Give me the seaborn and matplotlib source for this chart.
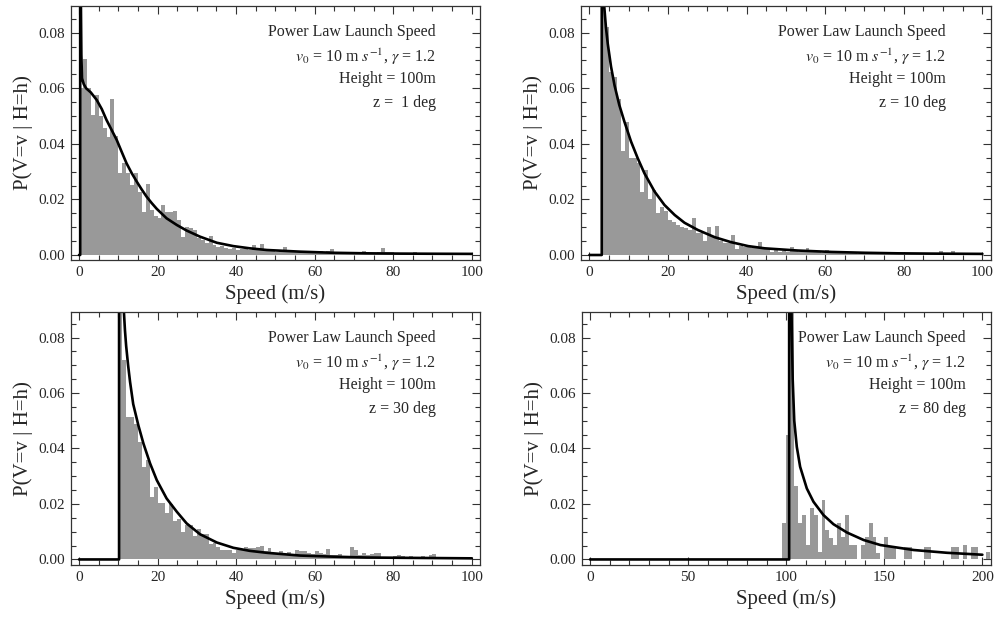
import numpy as np
import pandas as pd
import matplotlib
matplotlib.use("Agg")
import matplotlib.pyplot as plt
import seaborn as sns
from matplotlib.ticker import MultipleLocator

# ---------------- data ----------------
zenith_labels = ["z =  1 deg", "z = 10 deg", "z = 30 deg", "z = 80 deg"]

# histogram heights, bins of width 1 starting at 0 (panels 1-3)
hist_z1 = [0.060, 0.0705, 0.060, 0.0504, 0.0576, 0.050, 0.0456, 0.0426, 0.056, 0.043,
           0.0294, 0.033, 0.0294, 0.0252, 0.0294, 0.0228, 0.0154, 0.0254, 0.0162, 0.014,
           0.0132, 0.018, 0.0154, 0.0154, 0.016, 0.0126, 0.0064, 0.010, 0.0096, 0.009,
           0.006, 0.0054, 0.0042, 0.0068, 0.0036, 0.003, 0.0032, 0.0024, 0.002, 0.0024,
           0.0018, 0.0022, 0.002, 0.0018, 0.0036, 0.0022, 0.004, 0.002, 0.0015, 0.0018,
           0.0012, 0.0015, 0.003, 0.0018, 0.0012, 0.0015, 0.001, 0.0012, 0.0008, 0.0012,
           0.001, 0.0015, 0.0008, 0.0015, 0.002, 0.0008, 0.001, 0.0006, 0.0008, 0.0006,
           0.0012, 0.0008, 0.0015, 0.0004, 0.0008, 0.0006, 0.0012, 0.0025, 0.001, 0.001,
           0.0004, 0.0004, 0.0002, 0.0004, 0.0002, 0.0012, 0.0003, 0.0003, 0.0003, 0.0003,
           0.0003, 0.0003, 0.0003, 0.0003, 0.0003, 0.0003, 0.0003, 0.0003, 0.0003, 0.0003]

hist_z10 = [0.0, 0.0, 0.0, 0.095, 0.082, 0.066, 0.064, 0.056, 0.0375, 0.048,
            0.035, 0.035, 0.033, 0.0228, 0.0306, 0.020, 0.0234, 0.015, 0.0174, 0.016,
            0.0126, 0.012, 0.0108, 0.0102, 0.0096, 0.009, 0.0132, 0.0078, 0.0078, 0.0052,
            0.010, 0.0066, 0.0106, 0.0052, 0.0044, 0.0042, 0.0072, 0.002, 0.0032, 0.003,
            0.0028, 0.0025, 0.003, 0.0046, 0.0025, 0.002, 0.0012, 0.002, 0.001, 0.0015,
            0.0012, 0.0028, 0.0015, 0.0012, 0.0018, 0.0025, 0.0015, 0.0012, 0.001, 0.0008,
            0.0018, 0.0012, 0.0008, 0.001, 0.0006, 0.0008, 0.0006, 0.0012, 0.0005, 0.0008,
            0.0006, 0.0004, 0.0006, 0.0012, 0.0004, 0.0004, 0.0003, 0.0004, 0.0003, 0.0003,
            0.0003, 0.0003, 0.0003, 0.0003, 0.0003, 0.0003, 0.0003, 0.0003, 0.0003, 0.0015,
            0.0003, 0.0003, 0.0015, 0.0003, 0.0003, 0.0003, 0.0003, 0.0003, 0.0003, 0.0003]

hist_z30 = [0.0, 0.0, 0.0, 0.0, 0.0, 0.0, 0.0, 0.0, 0.0, 0.0,
            0.10, 0.072, 0.0515, 0.0515, 0.049, 0.0425, 0.0335, 0.036, 0.0225, 0.026,
            0.0205, 0.0205, 0.0167, 0.020, 0.014, 0.0145, 0.010, 0.0125, 0.0125, 0.0085,
            0.011, 0.009, 0.009, 0.0055, 0.0058, 0.0045, 0.0035, 0.0035, 0.0035, 0.0025,
            0.0035, 0.0035, 0.0045, 0.004, 0.004, 0.0045, 0.005, 0.003, 0.004, 0.002,
            0.0025, 0.003, 0.002, 0.0028, 0.002, 0.0035, 0.003, 0.0032, 0.0025, 0.002,
            0.003, 0.0025, 0.002, 0.0038, 0.0015, 0.0015, 0.0018, 0.001, 0.0012, 0.0045,
            0.0035, 0.0015, 0.0025, 0.0015, 0.0018, 0.0022, 0.0025, 0.001, 0.0008, 0.0008,
            0.0012, 0.0015, 0.0012, 0.001, 0.0012, 0.0008, 0.001, 0.0012, 0.0008, 0.0015,
            0.0018, 0.0005, 0.0008, 0.0005, 0.0005, 0.0005, 0.0005, 0.0005, 0.0005, 0.0005]

# panel 4: bins of width 2 starting at 98
hist_z80 = [0.0132, 0.045, 0.10, 0.0265, 0.0132, 0.016, 0.0052, 0.0186, 0.016, 0.0028,
            0.0214, 0.0106, 0.0079, 0.0052, 0.0132, 0.008, 0.016, 0.0052, 0.0052, 0.0,
            0.0052, 0.008, 0.0132, 0.008, 0.0025, 0.0, 0.008, 0.0045, 0.0045, 0.0,
            0.0, 0.0045, 0.0045, 0.0, 0.0, 0.0, 0.0045, 0.0045, 0.0, 0.0,
            0.0, 0.0, 0.0, 0.0045, 0.0045, 0.0, 0.0052, 0.0, 0.0045, 0.0045,
            0.0, 0.0, 0.0028]

# theoretical curves
curve_z1_x = [0, 0.3, 0.3, 0.45, 0.6, 0.76, 1.2, 1.8, 3.0, 4.5, 5.8, 7.0, 8.3, 9.6, 10.9,
              12.1, 13.4, 14.7, 16.0, 17.2, 18.5, 19.8, 22.3, 24.9, 27.4, 30.8, 35.1, 39.3,
              43.5, 47.8, 56.3, 64.8, 73.3, 81.7, 90.0, 100]
curve_z1_y = [0, 0, 0.2, 0.095, 0.072, 0.0636, 0.0615, 0.060, 0.0585, 0.0558, 0.0525, 0.0486,
              0.045, 0.0414, 0.037, 0.033, 0.0295, 0.0264, 0.0235, 0.021, 0.0187, 0.0166,
              0.0132, 0.0108, 0.0088, 0.0066, 0.0044, 0.0032, 0.0024, 0.0018, 0.0012, 0.0008,
              0.0006, 0.0005, 0.00045, 0.0004]

curve_z10_x = [0, 3.14, 3.14, 3.4, 3.8, 4.2, 4.67, 5.5, 6.4, 7.6, 8.9, 10.6, 12.3, 14.0,
               16.6, 19.1, 21.7, 24.2, 27.6, 31.9, 36.1, 40.4, 44.6, 53.1, 61.6, 70.1,
               78.6, 87.1, 100]
curve_z10_y = [0, 0, 0.2, 0.12, 0.089, 0.082, 0.076, 0.0678, 0.061, 0.054, 0.048, 0.0408,
               0.0348, 0.0294, 0.0228, 0.018, 0.0144, 0.0116, 0.009, 0.0064, 0.0046, 0.0032,
               0.0024, 0.0016, 0.0011, 0.0008, 0.0006, 0.0005, 0.0004]

curve_z30_x = [0, 10.2, 10.2, 10.6, 11.0, 11.4, 11.7, 12.0, 12.5, 13.0, 13.8, 15.1, 16.4,
               18.1, 19.8, 22.3, 24.9, 27.4, 30.8, 35.1, 39.3, 43.5, 47.8, 56.3, 64.8,
               73.3, 81.7, 100]
curve_z30_y = [0, 0, 0.3, 0.15, 0.11, 0.09, 0.0826, 0.077, 0.07, 0.064, 0.056, 0.0484,
               0.0418, 0.0346, 0.0286, 0.022, 0.0172, 0.013, 0.0091, 0.0061, 0.0042, 0.0031,
               0.0024, 0.0014, 0.001, 0.0007, 0.0006, 0.0004]

curve_z80_x = [0, 101.5, 101.5, 102.0, 102.5, 102.8, 103.3, 104.1, 105.4, 107.1, 110.5,
               113.9, 119.0, 124.1, 131.0, 139.5, 148.0, 165.0, 182.0, 200.0]
curve_z80_y = [0, 0, 0.3, 0.15, 0.1, 0.085, 0.065, 0.050, 0.0406, 0.0334, 0.0256, 0.0208,
               0.016, 0.0127, 0.0097, 0.007, 0.0052, 0.0034, 0.0024, 0.0017]

header = "Power Law Launch Speed"
params = r"$v_0$ = 10 m $s^{-1}$, $\gamma$ = 1.2"
height_txt = "Height = 100m"
ylabel = "P(V=v | H=h)"
xlabel = "Speed (m/s)"

# ---------------- style ----------------
sns.set_style("ticks")
plt.rcParams["font.family"] = ["Liberation Serif", "DejaVu Serif"]
plt.rcParams["mathtext.fontset"] = "stix"

W, H = 998, 621
fig = plt.figure(figsize=(W / 100, H / 100), dpi=100)

# axes boxes in pixels: left, right, top, bottom
boxes = [(71, 480, 6, 260), (581, 991, 6, 260), (71, 480, 312, 565), (582, 991, 312, 565)]
xlims = [(-2.04, 102.1), (-2.14, 102.2), (-2.04, 102.1), (-4.1, 204.4)]
ylims = [(-0.0018, 0.0896), (-0.0018, 0.0896), (-0.002, 0.0892), (-0.002, 0.0892)]
text_x = [0.892, 0.89, 0.892, 0.939]

hists = [hist_z1, hist_z10, hist_z30, hist_z80]
bin_setup = [(1, 0), (1, 0), (1, 0), (2, 98)]
curves = [(curve_z1_x, curve_z1_y), (curve_z10_x, curve_z10_y),
          (curve_z30_x, curve_z30_y), (curve_z80_x, curve_z80_y)]
xmajor = [20, 20, 20, 50]
xminor = [5, 5, 5, 10]

for i in range(4):
    l, r, t, b = boxes[i]
    ax = fig.add_axes([l / W, 1 - b / H, (r - l) / W, (b - t) / H])
    bw, start = bin_setup[i]
    n = len(hists[i])
    centers = start + bw * (np.arange(n) + 0.5)
    df = pd.DataFrame({"speed": centers, "p": hists[i]})
    sns.histplot(data=df, x="speed", weights="p", binwidth=bw,
                 binrange=(start, start + bw * n), ax=ax,
                 color="#999999", alpha=1.0, linewidth=0)
    cx, cy = curves[i]
    cdf = pd.DataFrame({"x": cx, "y": cy})
    sns.lineplot(data=cdf, x="x", y="y", ax=ax, color="black", linewidth=1.9,
                 sort=False, estimator=None)
    ax.set_xlim(*xlims[i])
    ax.set_ylim(*ylims[i])
    ax.xaxis.set_major_locator(MultipleLocator(xmajor[i]))
    ax.xaxis.set_minor_locator(MultipleLocator(xminor[i]))
    ax.set_yticks([0.0, 0.02, 0.04, 0.06, 0.08])
    ax.set_yticklabels(["0.00", "0.02", "0.04", "0.06", "0.08"])
    ax.yaxis.set_minor_locator(MultipleLocator(0.005))
    ax.tick_params(which="both", direction="in", top=True, right=True,
                   labelsize=11, color="#333333", width=0.8, pad=4)
    ax.tick_params(which="major", length=6)
    ax.tick_params(which="minor", length=3.5)
    for s in ax.spines.values():
        s.set_color("#333333")
        s.set_linewidth(0.9)
        s.set_visible(True)
    ax.set_xlabel(xlabel, fontsize=15, labelpad=4)
    ax.set_ylabel(ylabel, fontsize=15, labelpad=4)
    lines = [header, params, height_txt, zenith_labels[i]]
    ys = [0.899, 0.80, 0.713, 0.618]
    for txt, yy in zip(lines, ys):
        ax.text(text_x[i], yy, txt, transform=ax.transAxes, ha="right", va="center",
                fontsize=11.5)

fig.savefig("out.png", dpi=100)
